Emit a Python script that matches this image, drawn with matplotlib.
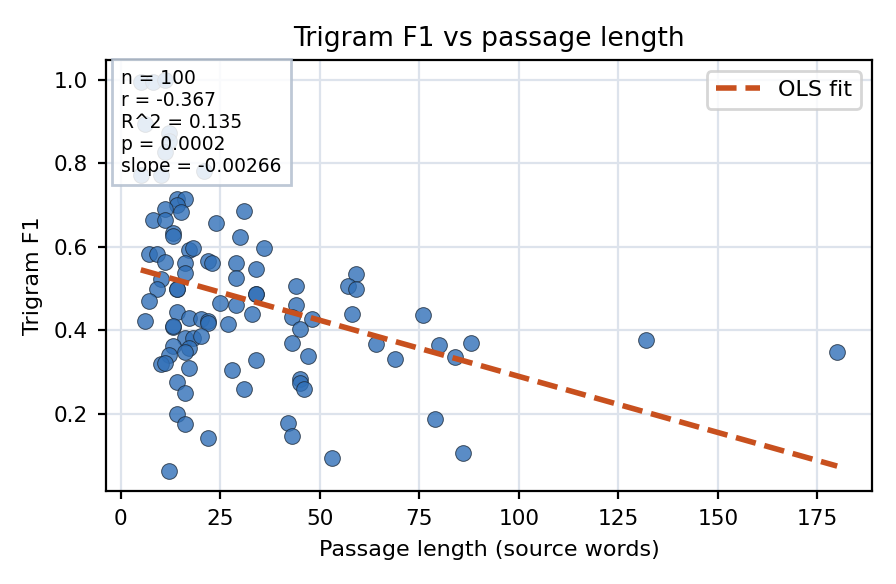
import numpy as np
import matplotlib
matplotlib.use("Agg")
import matplotlib.pyplot as plt

# passage length (source words) and trigram F1
length = [14, 16, 14, 11, 15, 8, 11, 31, 24, 13,
          13, 30, 36, 17, 18, 7, 9, 11, 16, 22,
          23, 29, 16, 34, 29, 10, 9, 14, 14, 7,
          25, 29, 34, 34, 33, 14, 6, 17, 20, 22,
          22, 27, 13, 16, 18, 20, 13, 17, 16, 12,
          10, 11, 17, 34, 28, 31, 14, 16, 14, 16,
          22, 12, 44, 44, 43, 48, 45, 43, 47, 45,
          45, 46, 42, 43, 53, 59, 57, 59, 58, 64,
          69, 76, 80, 84, 88, 79, 86, 132, 180, 5,
          6, 12, 12, 11, 10, 21, 5, 8, 11, 13]
f1 = [0.713, 0.713, 0.699, 0.691, 0.683, 0.665, 0.665, 0.686, 0.656, 0.633,
      0.625, 0.622, 0.596, 0.593, 0.598, 0.582, 0.582, 0.564, 0.561, 0.566,
      0.561, 0.560, 0.537, 0.546, 0.526, 0.522, 0.499, 0.499, 0.499, 0.470,
      0.464, 0.460, 0.486, 0.486, 0.440, 0.444, 0.422, 0.429, 0.427, 0.423,
      0.418, 0.416, 0.408, 0.382, 0.381, 0.385, 0.363, 0.357, 0.349, 0.341,
      0.319, 0.321, 0.309, 0.329, 0.305, 0.260, 0.277, 0.249, 0.200, 0.175,
      0.142, 0.062, 0.507, 0.460, 0.432, 0.427, 0.402, 0.369, 0.339, 0.283,
      0.273, 0.259, 0.178, 0.146, 0.094, 0.534, 0.506, 0.498, 0.438, 0.367,
      0.331, 0.436, 0.365, 0.335, 0.370, 0.188, 0.107, 0.376, 0.348, 0.771,
      0.893, 0.873, 0.852, 0.826, 0.771, 0.780, 0.995, 0.995, 1.000, 0.410]

stats_lines = ["n = 100", "r = -0.367", "R^2 = 0.135", "p = 0.0002", "slope = -0.00266"]

x = np.array(length, dtype=float)
y = np.array(f1)
slope, intercept = np.polyfit(x, y, 1)
xs = np.array([x.min(), x.max()])

fig = plt.figure(figsize=(4.48, 2.92), dpi=200)
ax = fig.add_axes([0.1183, 0.1592, 0.8549, 0.7381])

ax.grid(True, color="#dde3ec", linewidth=0.8)
ax.set_axisbelow(True)
ax.scatter(x, y, s=32, color="#3170b8", alpha=0.8, edgecolor="#1c2a3a",
           linewidth=0.35, zorder=2)
ax.plot(xs, intercept + slope * xs, "--", color="#c8501e", linewidth=2,
        label="OLS fit", zorder=3)

ax.set_title("Trigram F1 vs passage length", fontsize=9.6, pad=5)
ax.set_xlabel("Passage length (source words)", fontsize=8)
ax.set_ylabel("Trigram F1", fontsize=8)
ax.tick_params(labelsize=7.8, length=3)
ax.set_xticks([0, 25, 50, 75, 100, 125, 150, 175])

ax.text(0.02, 0.98, "\n".join(stats_lines), transform=ax.transAxes,
        va="top", ha="left", fontsize=6.7, zorder=5,
        bbox=dict(boxstyle="square,pad=0.5", facecolor="white", alpha=0.85,
                  edgecolor="#b3bfcf", linewidth=1.0))
ax.legend(loc="upper right", fontsize=8)

fig.savefig("out.png", dpi=200)
